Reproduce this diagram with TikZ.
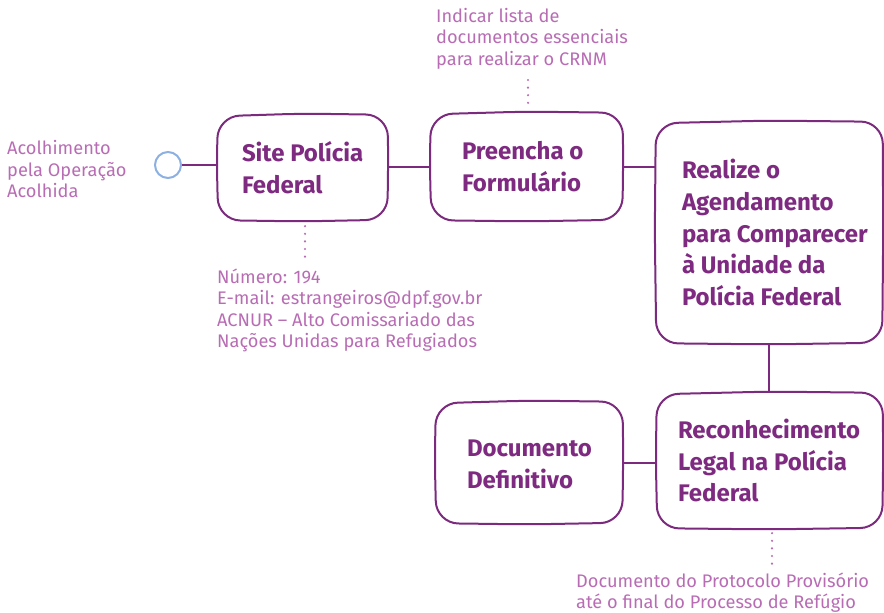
\documentclass[tikz,border=0pt]{standalone}
\usepackage{fontspec}
\setmainfont{Fira Sans}
\usetikzlibrary{calc}
\definecolor{boxc}{HTML}{7B2A7E}
\definecolor{headc}{HTML}{7D2A80}
\definecolor{notec}{HTML}{B86CB4}
\definecolor{ringc}{HTML}{8CB0E2}
\newcommand\handbox[1]{%
  \draw[boxline, rounded corners=22pt]
    ($(#1.north west)+(0,1.5)$) -- ($(#1.north)+(0,-1.2)$) -- ($(#1.north east)+(0.5,0)$)
    -- ($(#1.east)+(1,0)$) -- ($(#1.south east)+(0,-0.5)$) -- ($(#1.south)+(0,1.2)$)
    -- ($(#1.south west)+(0.5,0)$) -- ($(#1.west)+(-1,0)$) -- cycle;}
\begin{document}
\begin{tikzpicture}[x=1pt,y=-1pt,
  box/.style={rectangle, inner sep=0pt},
  boxline/.style={draw=boxc, line width=2pt},
  head/.style={anchor=west, align=left, inner sep=0pt, text=headc,
    font=\bfseries\fontsize{24}{31.8}\selectfont},
  note/.style={anchor=north west, align=left, inner sep=0pt, text=notec,
    font=\fontsize{18.2}{21.4}\selectfont},
  conn/.style={draw=boxc, line width=2pt},
  dots/.style={draw=notec, line width=2.4pt, line cap=round, dash pattern=on 0pt off 7.6pt}]
\useasboundingbox (0,0) rectangle (884,613);

% boxes
\node[box, minimum width=169, minimum height=105] (site) at (302.5,167.5) {};
\node[box, minimum width=191, minimum height=107] (prf) at (526.5,166.5) {};
\node[box, minimum width=226, minimum height=221] (real) at (769,232.5) {};
\node[box, minimum width=225, minimum height=135] (recon) at (769.5,460.5) {};
\node[box, minimum width=186, minimum height=121] (doc) at (529,462.5) {};
\handbox{site}\handbox{prf}\handbox{real}\handbox{recon}\handbox{doc}

% box texts
\node[head] (tsite) at ($(site.west)+(24,0)$) {Site Polícia\\Federal};
\node[head] (tprf) at ($(prf.west)+(31,0)$) {Preencha o\\Formulário};
\node[head] (treal) at ($(real.west)+(26,0)$) {Realize o\\Agendamento\\para Comparecer\\à Unidade da\\Polícia Federal};
\node[head] (trecon) at ($(recon.west)+(21,0)$) {Reconhecimento\\Legal na Polícia\\Federal};
\node[head] (tdoc) at ($(doc.west)+(31,2)$) {Documento\\Definitivo};

% start ring
\node[circle, draw=ringc, line width=2pt, minimum size=26pt, inner sep=0pt] (ring) at (168,165) {};

% connectors
\draw[conn] (ring.east) -- (ring.east -| site.west);
\draw[conn] (site.east |- prf.west) -- (prf.west);
\draw[conn] (prf.east) -- (prf.east -| real.west);
\draw[conn] (real.south) -- (real.south |- recon.north);
\draw[conn] (doc.east) -- (doc.east -| recon.west);

% notes
\node[note] (nacol) at (7,140.5) {Acolhimento\\pela Operação\\Acolhida};
\node[note] (nind) at (436,8) {Indicar lista de\\documentos essenciais\\para realizar o CRNM};
\node[note] (nnum) at (217,268.5) {Número: 194\\E-mail: estrangeiros@dpf.gov.br\\ACNUR – Alto Comissariado das\\Nações Unidas para Refugiados};
\node[note] (nprot) at (576,572.5) {Documento do Protocolo Provisório\\até o final do Processo de Refúgio};

% dotted leaders
\draw[dots] ($(prf.north)+(1.5,-10)$) -- ($(prf.north)+(1.5,-40)$);
\draw[dots] ($(site.south)+(2.5,6)$) -- ($(site.south)+(2.5,38)$);
\draw[dots] ($(recon.south)+(2.5,5)$) -- ($(recon.south)+(2.5,36)$);
\end{tikzpicture}
\end{document}
